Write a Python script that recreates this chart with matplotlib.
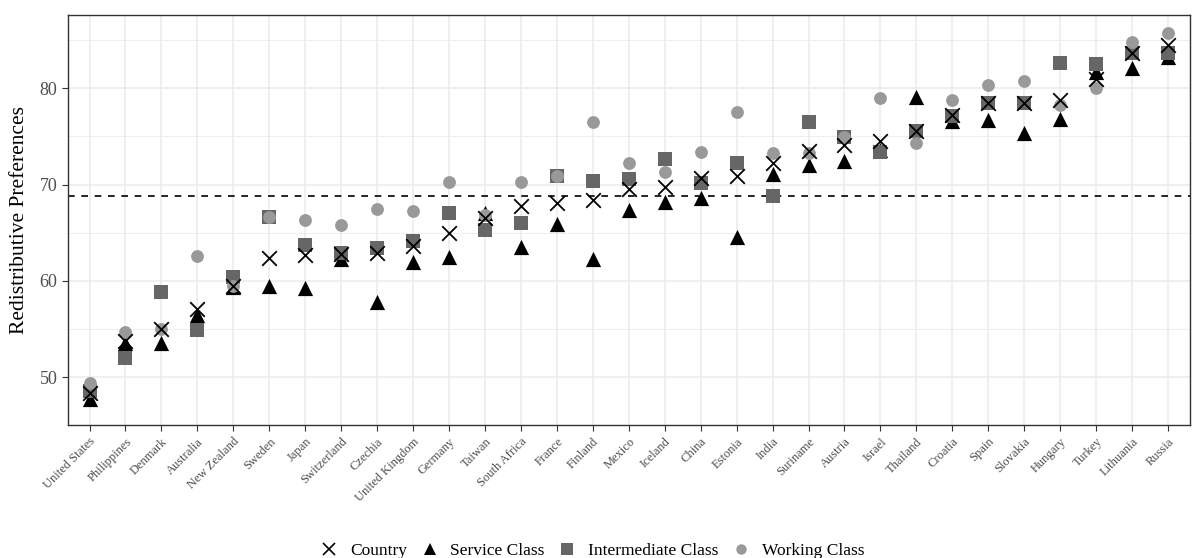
import numpy as np
import matplotlib.pyplot as plt
from matplotlib.lines import Line2D

countries = ["United States", "Philippines", "Denmark", "Australia", "New Zealand",
             "Sweden", "Japan", "Switzerland", "Czechia", "United Kingdom",
             "Germany", "Taiwan", "South Africa", "France", "Finland",
             "Mexico", "Iceland", "China", "Estonia", "India",
             "Suriname", "Austria", "Israel", "Thailand", "Croatia",
             "Spain", "Slovakia", "Hungary", "Turkey", "Lithuania", "Russia"]

country = [48.3, 53.7, 55.0, 57.1, 59.5, 62.4, 62.7, 62.8, 62.9, 63.6,
           65.0, 66.5, 67.8, 68.1, 68.4, 69.5, 69.7, 70.7, 70.9, 72.2,
           73.5, 74.1, 74.5, 75.6, 77.2, 78.5, 78.5, 78.8, 81.0, 83.7, 84.5]
service = [47.7, 53.5, 53.5, 56.4, 59.4, 59.5, 59.3, 62.3, 57.8, 62.0,
           62.5, 67.0, 63.5, 65.9, 62.3, 67.4, 68.2, 68.6, 64.5, 71.1,
           72.0, 72.4, 73.6, 79.1, 76.6, 76.7, 75.4, 76.8, 81.7, 82.1, 83.2]
intermediate = [48.5, 52.0, 58.8, 54.9, 60.4, 66.6, 63.7, 62.9, 63.4, 64.1,
                67.0, 65.3, 66.0, 70.9, 70.4, 70.6, 72.6, 70.2, 72.2, 68.8,
                76.5, 74.9, 73.4, 75.6, 77.1, 78.5, 78.5, 82.6, 82.5, 83.7, 83.7]
working = [49.4, 54.7, 55.0, 62.6, 59.5, 66.6, 66.3, 65.8, 67.5, 67.3,
           70.3, 66.8, 70.3, 70.9, 76.5, 72.2, 71.3, 73.4, 77.5, 73.3,
           73.3, 74.9, 79.0, 74.3, 78.8, 80.3, 80.8, 78.3, 80.0, 84.8, 85.7]
mean_line = 68.8

plt.rcParams['font.family'] = ['Liberation Serif', 'DejaVu Serif']

fig = plt.figure(figsize=(11.92, 5.58), dpi=100)
ax = fig.add_axes([0.057, 0.238, 0.941, 0.735])

x = np.arange(len(countries))

ax.set_axisbelow(True)
ax.scatter(x, service, marker='^', s=120, color='black', linewidths=0, zorder=3)
ax.scatter(x, intermediate, marker='s', s=95, color='#666666', linewidths=0, zorder=4)
ax.scatter(x, working, marker='o', s=85, color='#999999', linewidths=0, zorder=5)
ax.scatter(x, country, marker='x', s=110, color='black', linewidths=1.3, zorder=6)
ax.axhline(mean_line, color='black', linestyle=(0, (4, 4)), linewidth=1.2, zorder=2)

ax.set_xlim(-0.6, len(countries) - 0.4)
ax.set_ylim(45.4, 87.6)
ax.set_yticks([50, 60, 70, 80])
ax.set_yticks([45, 55, 65, 75, 85], minor=True)
ax.set_xticks(x)
ax.set_xticklabels(countries, rotation=45, ha='right', rotation_mode='anchor',
                   fontsize=9, color='#4d4d4d')
ax.tick_params(axis='y', labelsize=13, labelcolor='#4d4d4d', color='#333333', length=4)
ax.tick_params(axis='y', which='minor', length=0)
ax.tick_params(axis='x', color='#333333', length=4)
ax.grid(which='major', color='#ebebeb', linewidth=1.1)
ax.grid(which='minor', axis='y', color='#ebebeb', linewidth=0.6)
for sp in ax.spines.values():
    sp.set_color('#333333')
    sp.set_linewidth(1.0)
ax.set_ylabel('Redistributive Preferences', fontsize=15.5, labelpad=8)

handles = [
    Line2D([], [], marker='x', color='black', linestyle='', markersize=9, markeredgewidth=1.2),
    Line2D([], [], marker='^', color='black', linestyle='', markersize=9, markeredgewidth=0),
    Line2D([], [], marker='s', color='#666666', linestyle='', markersize=8, markeredgewidth=0),
    Line2D([], [], marker='o', color='#999999', linestyle='', markersize=7.5, markeredgewidth=0),
]
labels = ['Country', 'Service Class', 'Intermediate Class', 'Working Class']
fig.legend(handles, labels, loc='lower center', bbox_to_anchor=(0.497, -0.03), ncol=4,
           frameon=False, fontsize=12.5, handletextpad=0.7, columnspacing=0.8,
           handlelength=1.0)

fig.savefig('out.png', dpi=100)
